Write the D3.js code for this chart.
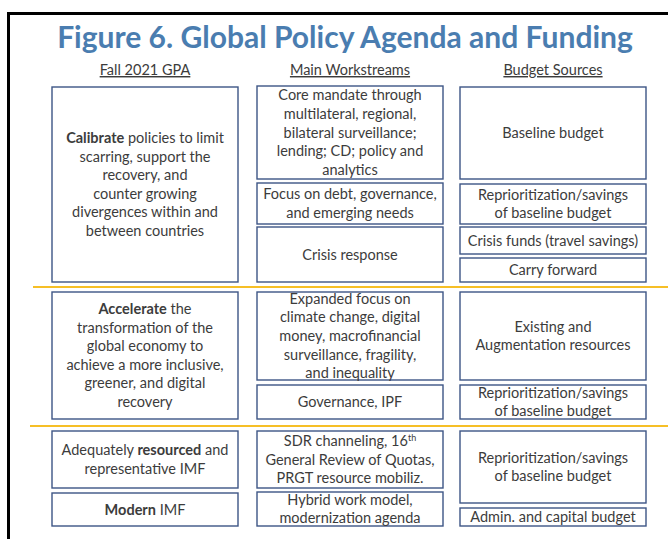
<!DOCTYPE html>
<html>
<head>
<meta charset="utf-8">
<script src="https://cdn.jsdelivr.net/npm/d3@7"></script>
<style>
	body { margin: 0; background: #fff; }
	svg { display: block; }
</style>
</head>
<body>
<script>
// text content of the figure; lines are broken as in the original.
// **word** = bold, ^xx = superscript
const TITLE = "Figure 6. Global Policy Agenda and Funding";
const columnHeaders = ["Fall 2021 GPA", "Main Workstreams", "Budget Sources"];

const gpaBoxes = [
	["**Calibrate** policies to limit", "scarring, support the", "recovery, and", "counter growing", "divergences within and", "between countries"],
	["**Accelerate** the", "transformation of the", "global economy to", "achieve a more inclusive,", "greener, and digital", "recovery"],
	["Adequately **resourced** and", "representative IMF"],
	["**Modern** IMF"]
];

const workstreamBoxes = [
	["Core mandate through", "multilateral, regional,", "bilateral surveillance;", "lending; CD; policy and", "analytics"],
	["Focus on debt, governance,", "and emerging needs"],
	["Crisis response"],
	["Expanded focus on", "climate change, digital", "money, macrofinancial", "surveillance, fragility,", "and inequality"],
	["Governance, IPF"],
	["SDR channeling, 16^th", "General Review of Quotas,", "PRGT resource mobiliz."],
	["Hybrid work model,", "modernization agenda"]
];

const budgetBoxes = [
	["Baseline budget"],
	["Reprioritization/savings", "of baseline budget"],
	["Crisis funds (travel savings)"],
	["Carry forward"],
	["Existing and", "Augmentation resources"],
	["Reprioritization/savings", "of baseline budget"],
	["Reprioritization/savings", "of baseline budget"],
	["Admin. and capital budget"]
];

// ---- layout (pixels) ----
const W = 668, H = 539;
const COL_X = [52, 257, 460];
const COL_W = 186;
// [top, bottom] of every box, per column
const BOX_SPANS = [
	[[87, 282], [292, 419], [431, 488], [493, 526]],
	[[86, 179], [183, 224], [227, 282], [292, 380], [385, 419], [431, 488], [492, 526]],
	[[87, 179], [184, 224], [227, 254], [258, 282], [292, 380], [385, 419], [431, 503], [508, 526]]
];
const SEPARATORS_Y = [287, 426];

const FONT = "Lato, 'Open Sans', sans-serif";
const TEXT_COLOR = "#3c3c3c";
const BOX_COLOR = "#3d5585";
const GOLD = "#f6bf26";
const TITLE_COLOR = "#4a7db0";
const FONT_SIZE = 14.5;
const LINE_H = 18.6;

const svg = d3.select("body").append("svg")
	.attr("width", W)
	.attr("height", H);

// outer frame (only left and top show in the crop)
svg.append("path")
	.attr("d", `M8.5,${H} V13.5 H${W}`)
	.attr("fill", "none")
	.attr("stroke", "#000")
	.attr("stroke-width", 3);

// title, fitted to the width it takes in the original
const title = svg.append("text")
	.attr("x", 345)
	.attr("y", 48)
	.attr("text-anchor", "middle")
	.attr("font-family", FONT)
	.attr("font-weight", "bold")
	.attr("font-size", 30)
	.attr("fill", TITLE_COLOR)
	.text(TITLE);
const tw = title.node().getComputedTextLength();
title.attr("font-size", 30 * 576 / tw);

// column headers
svg.selectAll("text.header")
	.data(columnHeaders)
	.join("text")
	.attr("class", "header")
	.attr("x", (d, i) => COL_X[i] + COL_W / 2)
	.attr("y", 75)
	.attr("text-anchor", "middle")
	.attr("font-family", FONT)
	.attr("font-size", FONT_SIZE)
	.attr("fill", TEXT_COLOR)
	.style("text-decoration", "underline")
	.text(d => d);

// gold separators between the three agenda rows
svg.selectAll("line.sep")
	.data(SEPARATORS_Y)
	.join("line")
	.attr("class", "sep")
	.attr("x1", (d, i) => i === 0 ? 33 : 30)
	.attr("x2", W)
	.attr("y1", d => d)
	.attr("y2", d => d)
	.attr("stroke", GOLD)
	.attr("stroke-width", 2.2);

function parseLine(s) {
	return s.split(/(\*\*[^*]+\*\*|\^\w+)/)
		.filter(Boolean)
		.map(p => {
			if (p.startsWith("**")) return { t: p.slice(2, -2), bold: true };
			if (p.startsWith("^")) return { t: p.slice(1), sup: true };
			return { t: p };
		});
}

const columns = [gpaBoxes, workstreamBoxes, budgetBoxes];

columns.forEach((boxes, ci) => {
	const data = boxes.map((lines, bi) => ({
		lines,
		top: BOX_SPANS[ci][bi][0],
		bottom: BOX_SPANS[ci][bi][1]
	}));

	const g = svg.append("g")
		.attr("transform", `translate(${COL_X[ci]},0)`);

	const box = g.selectAll("g.box")
		.data(data)
		.join("g")
		.attr("class", "box");

	box.append("rect")
		.attr("x", 0)
		.attr("y", d => d.top)
		.attr("width", COL_W)
		.attr("height", d => d.bottom - d.top)
		.attr("fill", "#fff")
		.attr("stroke", BOX_COLOR)
		.attr("stroke-width", 1.4);

	box.each(function(d) {
		const mid = (d.top + d.bottom) / 2;
		const y0 = mid - (d.lines.length - 1) * LINE_H / 2;
		const txt = d3.select(this).append("text")
			.attr("text-anchor", "middle")
			.attr("font-family", FONT)
			.attr("font-size", FONT_SIZE)
			.attr("fill", TEXT_COLOR);
		d.lines.forEach((line, li) => {
			const row = txt.append("tspan")
				.attr("x", COL_W / 2)
				.attr("y", y0 + li * LINE_H)
				.attr("dy", "0.35em");
			parseLine(line).forEach(seg => {
				const s = row.append("tspan").text(seg.t);
				if (seg.bold) s.attr("font-weight", "bold");
				if (seg.sup) s.attr("baseline-shift", "super").attr("font-size", 9);
			});
		});
	});
});
</script>
</body>
</html>
